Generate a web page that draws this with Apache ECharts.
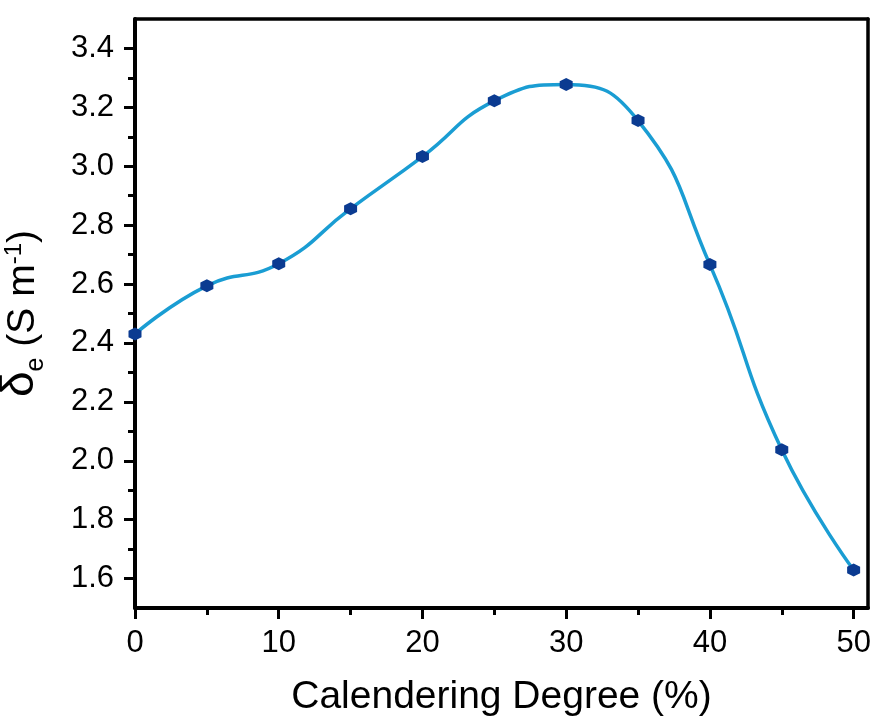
<!DOCTYPE html>
<html>
<head>
<meta charset="utf-8">
<script src="https://cdn.jsdelivr.net/npm/echarts@6/dist/echarts.min.js"></script>
<style>
html,body{margin:0;padding:0;background:#fff;}
#chart{width:874px;height:728px;}
</style>
</head>
<body>
<div id="chart"></div>
<script>
const degrees = [0, 5, 10, 15, 20, 25, 30, 35, 40, 45, 50];
const conductivity = [2.43, 2.594, 2.669, 2.856, 3.033, 3.222, 3.278, 3.155, 2.666, 2.037, 1.629];
const xMajorTicks = [0, 10, 20, 30, 40, 50];
const xMinorTicks = [5, 15, 25, 35, 45];
const yMajorTicks = [1.6, 1.8, 2.0, 2.2, 2.4, 2.6, 2.8, 3.0, 3.2, 3.4];
const yMinorTicks = [1.7, 1.9, 2.1, 2.3, 2.5, 2.7, 2.9, 3.1, 3.3];

const FONT = 'Liberation Sans, Arial, sans-serif';
const chart = echarts.init(document.getElementById('chart'), null, {renderer: 'canvas'});
const hexagon = 'path://M0,-1 L0.866,-0.5 L0.866,0.5 L0,1 L-0.866,0.5 L-0.866,-0.5 Z';

const baseY = {
  type: 'value', min: 1.5, max: 3.5, interval: 0.1,
  splitLine: {show: false}
};
const baseX = {
  type: 'value', min: 0, max: 51, interval: 1,
  splitLine: {show: false}
};

chart.setOption({
  backgroundColor: '#ffffff',
  animation: false,
  grid: {left: 135, right: 6, top: 19, bottom: 120, show: false, containLabel: false, outerBoundsMode: 'none'},
  xAxis: [
    Object.assign({}, baseX, {
      position: 'bottom',
      axisLine: {show: true, lineStyle: {color: '#000', width: 4}},
      axisTick: {show: true, customValues: xMajorTicks, length: 11, inside: false, lineStyle: {color: '#000', width: 3}},
      axisLabel: {show: true, customValues: xMajorTicks, margin: 20, color: '#000', fontFamily: FONT, fontSize: 31},
      name: 'Calendering Degree (%)',
      nameLocation: 'middle',
      nameGap: 70,
      nameTextStyle: {color: '#000', fontFamily: FONT, fontSize: 39}
    }),
    Object.assign({}, baseX, {
      position: 'bottom',
      axisLine: {show: false},
      axisTick: {show: true, customValues: xMinorTicks, length: 7, lineStyle: {color: '#000', width: 3}},
      axisLabel: {show: false}
    }),
    Object.assign({}, baseX, {
      position: 'top',
      axisLine: {show: true, onZero: false, lineStyle: {color: '#000', width: 3.5}},
      axisTick: {show: false},
      axisLabel: {show: false}
    })
  ],
  yAxis: [
    Object.assign({}, baseY, {
      position: 'left',
      axisLine: {show: true, onZero: false, lineStyle: {color: '#000', width: 4}},
      axisTick: {show: true, customValues: yMajorTicks, length: 11, lineStyle: {color: '#000', width: 3}},
      axisLabel: {show: true, customValues: yMajorTicks, margin: 21, color: '#000', fontFamily: FONT, fontSize: 31,
        formatter: v => v.toFixed(1)},
      name: '{d|δ}{s|e}{t| (S m}{p|-1}{t|)}',
      nameLocation: 'middle',
      nameRotate: 90,
      nameGap: 92,
      nameTextStyle: {
        color: '#000', fontFamily: FONT,
        rich: {
          d: {fontSize: 46, fontFamily: FONT, color: '#000', lineHeight: 50, verticalAlign: 'bottom'},
          s: {fontSize: 25, fontFamily: FONT, color: '#000', lineHeight: 50, verticalAlign: 'bottom', padding: [0, 0, -6, 0]},
          t: {fontSize: 39, fontFamily: FONT, color: '#000', lineHeight: 50, verticalAlign: 'bottom'},
          p: {fontSize: 24, fontFamily: FONT, color: '#000', lineHeight: 50, verticalAlign: 'bottom', padding: [0, 0, 17, 0]}
        }
      }
    }),
    Object.assign({}, baseY, {
      position: 'left',
      axisLine: {show: false},
      axisTick: {show: true, customValues: yMinorTicks, length: 7, lineStyle: {color: '#000', width: 3}},
      axisLabel: {show: false}
    }),
    Object.assign({}, baseY, {
      position: 'right',
      axisLine: {show: true, onZero: false, lineStyle: {color: '#000', width: 3.5}},
      axisTick: {show: false},
      axisLabel: {show: false}
    })
  ],
  series: [{
    type: 'line',
    xAxisIndex: 0,
    yAxisIndex: 0,
    data: degrees.map((d, i) => [d, conductivity[i]]),
    smooth: 0.5,
    symbol: hexagon,
    symbolSize: 13,
    showAllSymbol: true,
    lineStyle: {color: '#1a9dd3', width: 3.5},
    itemStyle: {color: '#0b3b91', borderWidth: 0},
    clip: false,
    z: 3
  }]
});
</script>
</body>
</html>
